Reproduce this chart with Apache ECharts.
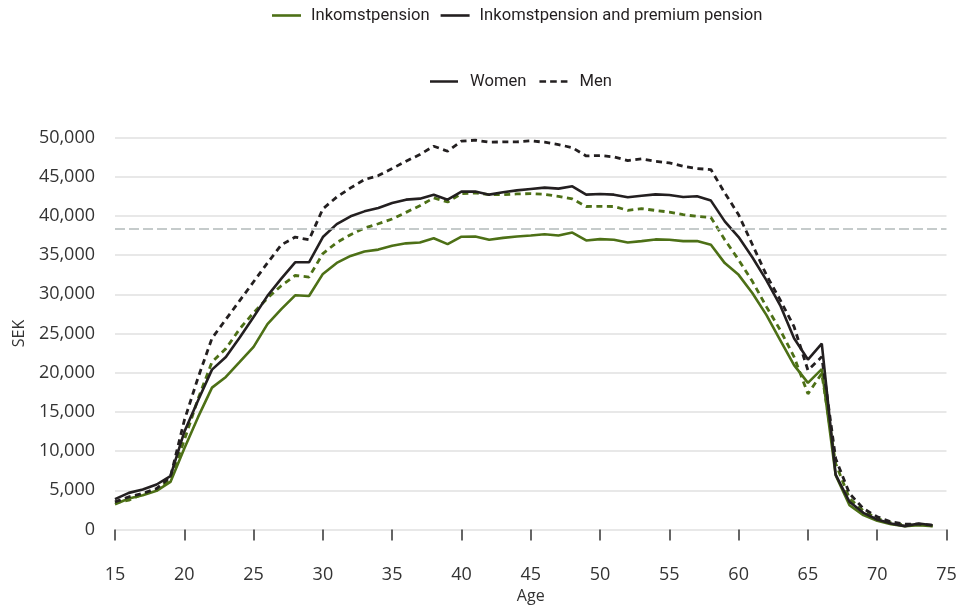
<!DOCTYPE html>
<html>
<head>
<meta charset="utf-8">
<script src="https://cdn.jsdelivr.net/npm/echarts@6/dist/echarts.min.js"></script>
<style>html,body{margin:0;padding:0;background:#fff}#c{width:965px;height:611px}</style>
</head>
<body>
<div id="c"></div>
<script>
var ages = [15,16,17,18,19,20,21,22,23,24,25,26,27,28,29,30,31,32,33,34,35,36,37,38,39,40,41,42,43,44,45,46,47,48,49,50,51,52,53,54,55,56,57,58,59,60,61,62,63,64,65,66,67,68,69,70,71,72,73,74];
var womenInkomst = [3230,3950,4380,4930,6070,10320,14360,18100,19460,21370,23300,26200,28100,29870,29780,32600,34000,34900,35450,35700,36200,36500,36600,37150,36400,37350,37380,36950,37200,37380,37500,37650,37500,37880,36870,37040,36960,36610,36780,37000,36950,36780,36800,36320,33980,32480,30140,27370,24170,20970,18700,20450,6930,3100,1830,1110,680,430,550,430];
var womenTotal = [3870,4670,5100,5740,6800,12450,16480,20390,22000,24500,27100,29800,32000,34080,34080,37300,38950,39950,40580,41010,41650,42070,42200,42710,42070,43090,43100,42710,43010,43260,43440,43610,43480,43780,42710,42800,42710,42370,42580,42750,42670,42410,42500,41950,39300,37300,34700,31800,28600,24400,21680,23720,7000,3530,2130,1280,770,430,770,550];
var menInkomst = [3400,3740,4500,5010,6370,11390,16700,21370,23070,25600,27650,29500,31100,32400,32200,35200,36600,37600,38450,39000,39600,40450,41300,42290,41770,42840,42930,42710,42710,42800,42840,42750,42500,42160,41200,41220,41200,40710,40920,40700,40490,40150,39940,39810,36960,34400,31620,28430,25450,22030,17300,19900,8420,3950,2380,1400,850,550,640,470];
var menTotal = [3530,4160,4590,5220,6710,13900,19400,24400,26800,29200,31600,34000,36300,37300,36950,40900,42400,43570,44630,45140,46040,46970,47830,48890,48250,49530,49660,49400,49440,49440,49570,49400,49100,48700,47650,47700,47530,47060,47270,46970,46760,46330,46040,45910,42930,40150,36320,32480,29280,25870,20320,22020,9060,4590,2680,1620,980,680,680,550];
var referenceLevel = 38420;
var legendTypes = ['Inkomstpension', 'Inkomstpension and premium pension'];
var legendGenders = ['Women', 'Men'];

var GREEN = '#4d7016', BLACK = '#231f20';
var SOLID_ICON = 'path://M0,0L29,0L29,2.6L0,2.6Z';
var DASH_ICON = 'path://M0,0h6.5v2.6h-6.5z M10.5,0h6.5v2.6h-6.5z M21,0h6.5v2.6h-6.5z';
function pairs(vals){ return ages.map(function(a,i){ return [a, vals[i]]; }); }
function fmt(v){ return String(v).replace(/\B(?=(\d{3})+(?!\d))/g, ','); }

var chart = echarts.init(document.getElementById('c'), null, {renderer:'canvas'});
chart.setOption({
  animation:false,
  backgroundColor:'#fff',
  grid:{left:115, right:18.5, top:137.5, bottom:81.5},
  legend:[
    {data:legendTypes.map(function(n){return {name:n, icon:SOLID_ICON};}), left:267, top:2, itemWidth:29, itemHeight:14, itemGap:11,
      textStyle:{fontFamily:'Roboto', fontSize:16.6, color:'#231f20', padding:[0,0,0,5]}, selectedMode:false},
    {data:[{name:legendGenders[0], icon:SOLID_ICON},{name:legendGenders[1], icon:DASH_ICON}], left:425, top:68, itemWidth:28, itemHeight:14, itemGap:13,
      textStyle:{fontFamily:'Roboto', fontSize:16.6, color:'#231f20', padding:[0,0,0,7]}, selectedMode:false}
  ],
  xAxis:{type:'value', min:15, max:75, interval:5, offset:20,
    axisLine:{show:false}, splitLine:{show:false},
    axisTick:{show:true, length:11, lineStyle:{color:'#333', width:1.5}},
    axisLabel:{fontFamily:'Open Sans', fontSize:18, color:'#333', margin:16},
    name:'Age', nameLocation:'middle', nameGap:39,
    nameTextStyle:{fontFamily:'Open Sans', fontSize:16, color:'#333'}},
  yAxis:{type:'value', min:0, max:50000, interval:5000,
    axisLine:{show:false}, axisTick:{show:false},
    splitLine:{lineStyle:{color:'#e1e1e1', width:1.5}},
    axisLabel:{fontFamily:'Open Sans', fontSize:18, color:'#333', margin:20, formatter:fmt},
    name:'SEK', nameLocation:'middle', nameGap:88,
    nameTextStyle:{fontFamily:'Open Sans', fontSize:16, color:'#333'}},
  series:[
    {name:'Inkomstpension', type:'line', data:[], symbol:'none', lineStyle:{color:GREEN, width:2.6}, itemStyle:{color:GREEN}},
    {name:'Inkomstpension and premium pension', type:'line', data:[], symbol:'none', lineStyle:{color:BLACK, width:2.6}, itemStyle:{color:BLACK}},
    {name:'Women', type:'line', data:[], symbol:'none', lineStyle:{color:BLACK, width:2.6}, itemStyle:{color:BLACK}},
    {name:'Men', type:'line', data:[], symbol:'none', lineStyle:{color:BLACK, width:2.6}, itemStyle:{color:BLACK}},
    {name:'Men inkomst', type:'line', data:pairs(menInkomst), symbol:'none', lineStyle:{color:GREEN, width:2.8, type:[6,4.5]},
      markLine:{silent:true, symbol:'none', label:{show:false}, lineStyle:{color:'#b3baba', width:1.5, type:[10,4]}, data:[{yAxis:referenceLevel}]}},
    {name:'Women inkomst', type:'line', data:pairs(womenInkomst), symbol:'none', lineStyle:{color:GREEN, width:2.6}},
    {name:'Men total', type:'line', data:pairs(menTotal), symbol:'none', lineStyle:{color:BLACK, width:2.8, type:[6,4.5]}},
    {name:'Women total', type:'line', data:pairs(womenTotal), symbol:'none', lineStyle:{color:BLACK, width:2.6}}
  ]
});
</script>
</body>
</html>
